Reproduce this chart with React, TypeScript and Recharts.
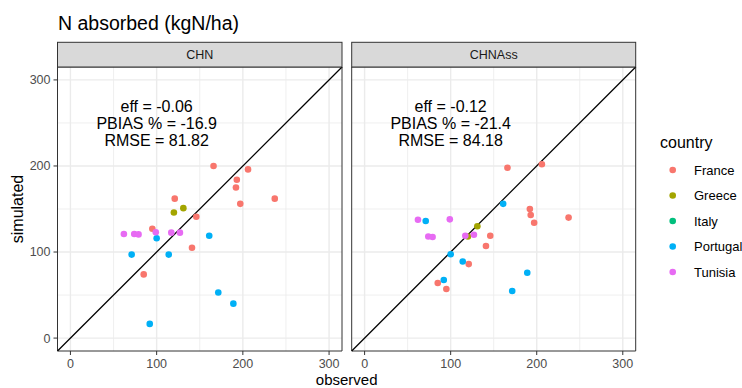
import React from "react";
import {
  ScatterChart,
  Scatter,
  XAxis,
  YAxis,
  CartesianGrid,
  ReferenceLine,
  ReferenceArea,
  ReferenceDot,
} from "recharts";

// countries (ggplot default hue palette)
const countries = ["France", "Greece", "Italy", "Portugal", "Tunisia"];
const countryColors = ["#F8766D", "#A3A500", "#00BF7D", "#00B0F6", "#E76BF3"];

// observed values, same sites in both panels
const franceObs = [85, 95, 121, 141, 146, 166, 192, 193, 197, 206, 237];
const greeceObs = [120, 131];
const italyObs: number[] = [];
const portugalObs = [71, 92, 100, 114, 161, 171.5, 189];
const tunisiaObs = [62, 74, 79, 99, 117, 127];

// simulated, CHN
const franceChn = [74, 127, 162, 105, 141, 200, 175, 184, 156, 196, 162];
const greeceChn = [146, 151];
const italyChn: number[] = [];
const portugalChn = [97, 16.5, 116, 97, 119, 53, 40];
const tunisiaChn = [121, 121, 120.5, 123, 122.5, 122.5];

// simulated, CHNAss
const franceAss = [64, 57, 86, 107, 119, 198, 150, 143, 134, 202, 140];
const greeceAss = [118, 130];
const italyAss: number[] = [];
const portugalAss = [136, 67.5, 97.5, 89, 156, 54.7, 76];
const tunisiaAss = [137.5, 118, 117.5, 138, 119, 120];

const observed = [franceObs, greeceObs, italyObs, portugalObs, tunisiaObs];
const simChn = [franceChn, greeceChn, italyChn, portugalChn, tunisiaChn];
const simAss = [franceAss, greeceAss, italyAss, portugalAss, tunisiaAss];

const statsChn = ["eff = -0.06", "PBIAS % = -16.9", "RMSE = 81.82"];
const statsAss = ["eff = -0.12", "PBIAS % = -21.4", "RMSE = 84.18"];

const axisTicks = [0, 100, 200, 300];
const minorTicks = [50, 150, 250];
const DOMAIN: [number, number] = [-15, 315];

const FONT = "'Liberation Sans', Arial, sans-serif";

type PanelProps = {
  sims: number[][];
  stats: string[];
  showY: boolean;
  width: number;
  marginLeft: number;
  marginRight: number;
};

const Panel = ({ sims, stats, showY, width, marginLeft, marginRight }: PanelProps) => (
  <ScatterChart
    width={width}
    height={388}
    margin={{ top: 67, right: marginRight, bottom: 7, left: marginLeft }}
  >
    <CartesianGrid
      stroke="#EBEBEB"
      strokeWidth={0.8}
      horizontalValues={minorTicks}
      verticalValues={minorTicks}
    />
    <CartesianGrid
      stroke="#EBEBEB"
      strokeWidth={1.4}
      horizontalValues={axisTicks}
      verticalValues={axisTicks}
    />
    <XAxis
      type="number"
      dataKey="x"
      domain={DOMAIN}
      ticks={axisTicks}
      allowDataOverflow
      axisLine={false}
      tickLine={{ stroke: "#333333" }}
      tickSize={4}
      tickMargin={4}
      tick={{ fill: "#4D4D4D", fontSize: 12.5 }}
      height={30}
    />
    <YAxis
      type="number"
      dataKey="y"
      domain={DOMAIN}
      ticks={axisTicks}
      allowDataOverflow
      hide={!showY}
      axisLine={false}
      tickLine={{ stroke: "#333333" }}
      tickSize={4}
      tickMargin={3}
      tick={{ fill: "#4D4D4D", fontSize: 12.5 }}
      width={57.5}
    />
    <ReferenceLine
      segment={[
        { x: DOMAIN[0], y: DOMAIN[0] },
        { x: DOMAIN[1], y: DOMAIN[1] },
      ]}
      stroke="#000000"
      strokeWidth={1.3}
    />
    {countries.map((c, i) => (
      <Scatter
        key={c}
        name={c}
        data={observed[i].map((x, j) => ({ x, y: sims[i][j] }))}
        isAnimationActive={false}
        shape={(p: any) => (
          <circle cx={p.cx} cy={p.cy} r={3.3} fill={countryColors[i]} />
        )}
      />
    ))}
    <ReferenceDot
      x={100}
      y={250}
      r={0}
      shape={(p: any) => (
        <g>
          {stats.map((s, k) => (
            <text
              key={s}
              x={p.cx}
              y={p.cy + (k - 1) * 17 + 5.6}
              textAnchor="middle"
              fontSize={16}
              fill="#000000"
            >
              {s}
            </text>
          ))}
        </g>
      )}
    />
    <ReferenceArea
      x1={DOMAIN[0]}
      x2={DOMAIN[1]}
      y1={DOMAIN[0]}
      y2={DOMAIN[1]}
      fill="none"
      stroke="#333333"
      strokeWidth={1}
    />
  </ScatterChart>
);

const strips = [
  { label: "CHN", left: 57.5, width: 284.5 },
  { label: "CHNAss", left: 351.7, width: 284 },
];

export default function App() {
  return (
    <div
      style={{
        position: "absolute",
        left: 0,
        top: 0,
        width: 742,
        height: 388,
        background: "#FFFFFF",
        fontFamily: FONT,
      }}
    >
      <div style={{ position: "absolute", left: 0, top: 0 }}>
        <Panel sims={simChn} stats={statsChn} showY width={343} marginLeft={0} marginRight={1} />
      </div>
      <div style={{ position: "absolute", left: 345, top: 0 }}>
        <Panel
          sims={simAss}
          stats={statsAss}
          showY={false}
          width={295}
          marginLeft={6.7}
          marginRight={4.3}
        />
      </div>
      <svg
        width={742}
        height={388}
        style={{ position: "absolute", left: 0, top: 0, pointerEvents: "none" }}
        fontFamily={FONT}
      >
        <text x={58} y={30} fontSize={19.5} fill="#000000">
          N absorbed (kgN/ha)
        </text>
        {strips.map((s) => (
          <g key={s.label}>
            <rect
              x={s.left}
              y={42.3}
              width={s.width}
              height={24.7}
              fill="#D9D9D9"
              stroke="#333333"
              strokeWidth={1}
            />
            <text
              x={s.left + s.width / 2}
              y={58.7}
              textAnchor="middle"
              fontSize={12.5}
              fill="#1A1A1A"
            >
              {s.label}
            </text>
          </g>
        ))}
        <text x={346.7} y={384.7} textAnchor="middle" fontSize={15} fill="#000000">
          observed
        </text>
        <text
          x={0}
          y={0}
          transform="translate(23 209) rotate(-90)"
          textAnchor="middle"
          fontSize={16}
          fill="#000000"
        >
          simulated
        </text>
        <text x={660} y={148} fontSize={16} fill="#000000">
          country
        </text>
        {countries.map((c, i) => (
          <g key={c}>
            <circle cx={672.7} cy={170 + i * 25.5} r={3.3} fill={countryColors[i]} />
            <text x={694} y={170 + i * 25.5 + 4.6} fontSize={13} fill="#000000">
              {c}
            </text>
          </g>
        ))}
      </svg>
    </div>
  );
}
